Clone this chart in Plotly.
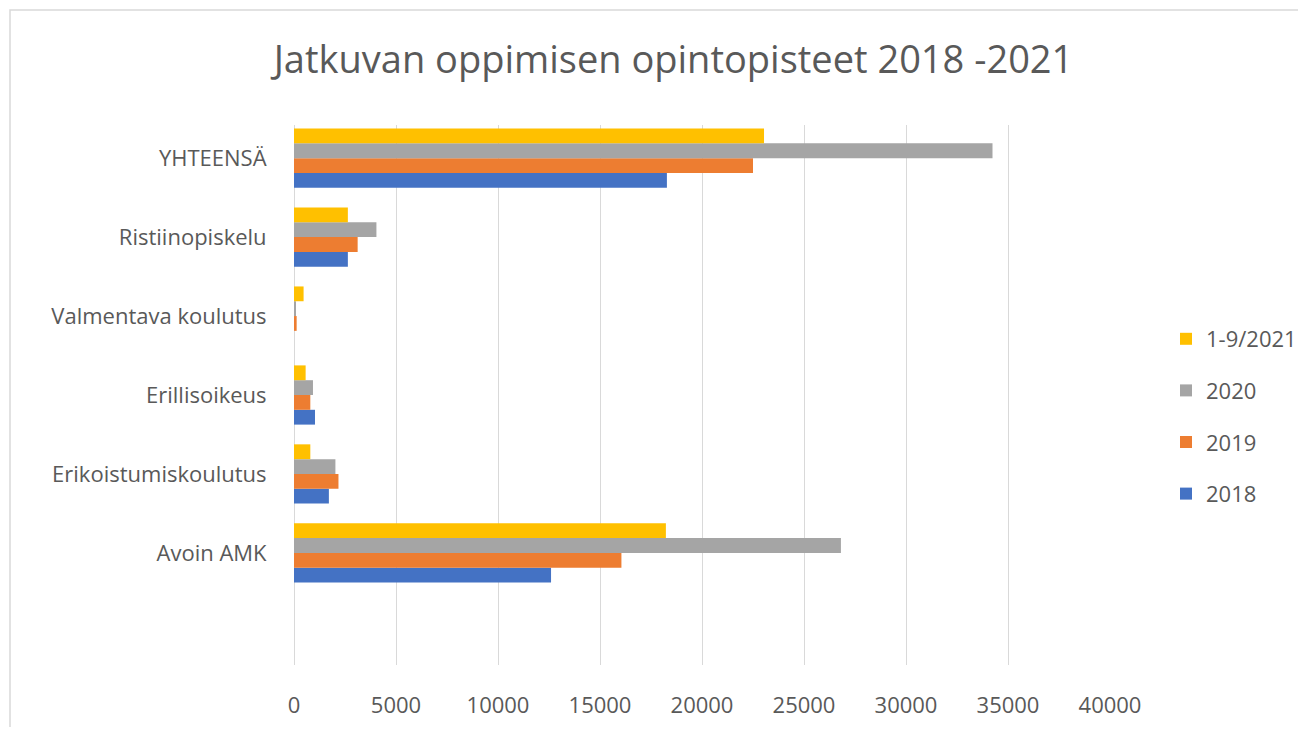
import plotly.graph_objects as go

categories = ["Avoin AMK", "Erikoistumiskoulutus", "Erillisoikeus",
              "Valmentava koulutus", "Ristiinopiskelu", "YHTEENSÄ"]
series_names = ["2018", "2019", "2020", "1-9/2021"]
v2018 = [12600, 1710, 1030, 0, 2640, 18280]
v2019 = [16050, 2180, 800, 130, 3120, 22500]
v2020 = [26810, 2030, 930, 80, 4040, 34240]
v2021 = [18230, 800, 570, 470, 2640, 23040]
colors = ["#4472C4", "#ED7D31", "#A5A5A5", "#FFC000"]
x_ticks = [0, 5000, 10000, 15000, 20000, 25000, 30000, 35000, 40000]

OFF = 8  # page body margin
W, H = 1306 - 2 * OFF, 735 - 2 * OFF
L, R, T, B = 294 - OFF, 1110 - OFF, 125 - OFF, 665 - OFF

fig = go.Figure()
for i, (name, vals) in enumerate(zip(series_names, [v2018, v2019, v2020, v2021])):
    fig.add_trace(go.Bar(
        y=categories, x=vals, name=name, orientation="h",
        marker=dict(color=colors[i], line=dict(width=0)),
        legendgroup=name, legendrank=10 - i,
    ))

def px2x(p):
    return (p - L) / (R - L)

def px2y(p):
    return (B - p) / (B - T)

fig.update_layout(
    width=W, height=H,
    margin=dict(l=L, r=W - R, t=T, b=H - B, autoexpand=False),
    paper_bgcolor="white", plot_bgcolor="white",
    barmode="group", bargap=0.25, bargroupgap=0,
    title=dict(text="Jatkuvan oppimisen opintopisteet 2018 -2021",
               x=(673.5 - OFF) / W, xanchor="center", xref="container",
               y=1 - (60 - OFF) / H, yanchor="middle", yref="container",
               font=dict(family="Open Sans", size=38, color="#595959")),
    font=dict(family="Open Sans", color="#595959"),
    xaxis=dict(range=[0, 40000], tickvals=x_ticks,
               ticktext=[str(t) for t in x_ticks],
               showgrid=True, gridcolor="#D9D9D9", gridwidth=1,
               zeroline=True, zerolinecolor="#D9D9D9", zerolinewidth=1,
               showline=False, ticks="outside", ticklen=21,
               tickcolor="rgba(0,0,0,0)",
               tickfont=dict(family="Open Sans", size=22, color="#595959")),
    yaxis=dict(categoryorder="array", categoryarray=categories,
               range=[-1.42, 5.42], showgrid=False, zeroline=False,
               showline=False, ticks="outside", ticklen=22,
               tickcolor="rgba(0,0,0,0)",
               tickfont=dict(family="Open Sans", size=22, color="#595959")),
    legend=dict(x=px2x(1166 - OFF), y=px2y(318 - OFF), xanchor="left", yanchor="top",
                traceorder="grouped", tracegroupgap=20,
                font=dict(family="Open Sans", size=22, color="#595959"),
                bgcolor="rgba(0,0,0,0)"),
    shapes=[dict(type="rect", xref="paper", yref="paper",
                 x0=px2x(10 - OFF), x1=px2x(1400), y0=px2y(800), y1=px2y(10 - OFF),
                 line=dict(color="#D9D9D9", width=1.5),
                 fillcolor="rgba(0,0,0,0)", layer="below")],
)

fig.write_html("out.html")
